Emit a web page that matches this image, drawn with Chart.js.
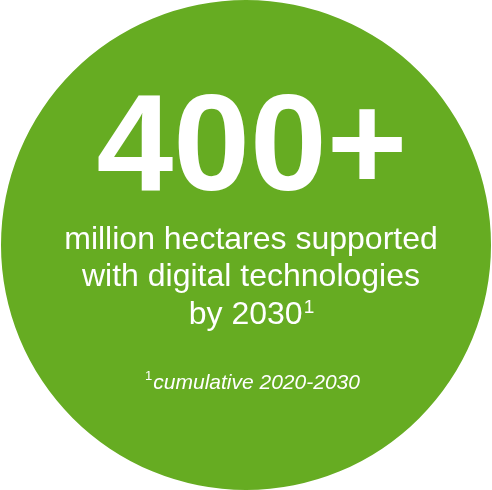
<!DOCTYPE html>
<html>
<head>
<meta charset="utf-8">
<script src="https://cdn.jsdelivr.net/npm/chart.js@4"></script>
<style>
  html, body { margin: 0; padding: 0; background: #fff; }
  #wrap { width: 492px; height: 490px; }
</style>
</head>
<body>
<div id="wrap"><canvas id="circleChart"></canvas></div>
<script>
const labels = ["million hectares supported with digital technologies by 2030"];
const values = [400];
const headline = "400+";
const bodyLines = ["million hectares supported", "with digital technologies", "by 2030"];
const footnote = "cumulative 2020-2030";

const textPlugin = {
    id: "centerText",
    afterDraw(chart) {
        const ctx = chart.ctx;
        const arc = chart.getDatasetMeta(0).data[0];
        const cx = arc.x + 5;
        const face = "'Liberation Sans', Arial, sans-serif";
        ctx.save();
        ctx.fillStyle = "#ffffff";
        ctx.textAlign = "center";
        ctx.textBaseline = "alphabetic";

        ctx.font = "bold 138px " + face;
        ctx.fillText(headline, cx + 1, 190);

        ctx.font = "32px " + face;
        ctx.fillText(bodyLines[0], cx, 249);
        ctx.fillText(bodyLines[1], cx, 286);

        // last line with superscript
        const sup = "1";
        const mainW = ctx.measureText(bodyLines[2]).width;
        ctx.font = "19px " + face;
        const supW = ctx.measureText(sup).width;
        const startX = cx - (mainW + supW) / 2;
        ctx.textAlign = "left";
        ctx.font = "32px " + face;
        ctx.fillText(bodyLines[2], startX, 324);
        ctx.font = "19px " + face;
        ctx.fillText(sup, startX + mainW + 1, 313);

        // footnote
        ctx.font = "italic 21px " + face;
        const fnW = ctx.measureText(footnote).width;
        ctx.font = "13px " + face;
        const fsW = ctx.measureText(sup).width;
        const fx = cx + 1 - (fnW + fsW) / 2;
        ctx.fillText(sup, fx, 380);
        ctx.font = "italic 21px " + face;
        ctx.fillText(footnote, fx + fsW + 1, 389);
        ctx.restore();
    }
};

document.addEventListener("DOMContentLoaded", function () {
    const ctx = document.getElementById("circleChart").getContext("2d");
    new Chart(ctx, {
        type: "pie",
        data: {
            labels: labels,
            datasets: [{
                data: values,
                backgroundColor: ["#66ac22"],
                borderWidth: 0
            }]
        },
        options: {
            animation: false,
            responsive: true,
            maintainAspectRatio: false,
            layout: { padding: 0 },
            plugins: {
                legend: { display: false },
                tooltip: { enabled: false }
            }
        },
        plugins: [textPlugin]
    });
});
</script>
</body>
</html>
